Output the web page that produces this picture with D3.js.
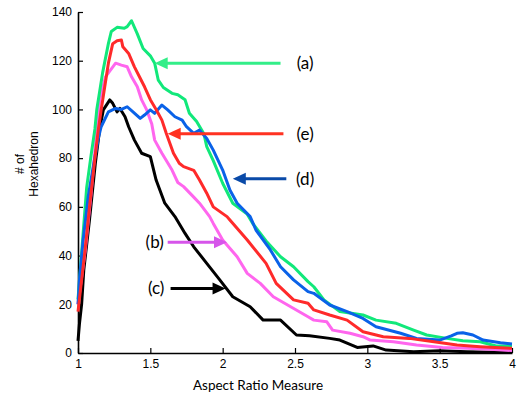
<!DOCTYPE html>
<html>
<head>
<meta charset="utf-8">
<script src="https://cdn.jsdelivr.net/npm/d3@7"></script>
<style>
  body { margin: 0; background: #fff; }
  svg { display: block; }
</style>
</head>
<body>
<svg id="chart"></svg>
<script>
// aspect ratio values and hexahedron counts, one pair per curve
let aX = [1.0, 1.03, 1.06, 1.09, 1.117, 1.13, 1.17, 1.21, 1.23, 1.27, 1.32, 1.34, 1.37, 1.41, 1.45, 1.50, 1.53, 1.555, 1.59, 1.65, 1.69, 1.74, 1.77, 1.82, 1.87, 1.89, 1.935, 2.0, 2.07, 2.17, 2.21, 2.30, 2.40, 2.49, 2.59, 2.63, 2.70, 2.81, 2.97, 3.06, 3.20, 3.32, 3.41, 3.55, 3.66, 3.78, 3.89, 4.0];
let aY = [22, 45, 68, 81, 92, 100, 115, 127, 132, 133.7, 133.3, 134, 136.4, 131, 125, 122, 119, 112, 109, 106.6, 106, 104, 98.4, 95, 90, 84.7, 79, 69.7, 61.5, 57, 53, 46, 39.5, 35.4, 29.3, 27.2, 21.8, 17, 15.6, 13.5, 12.2, 9.4, 7.4, 6, 5, 4.6, 2.9, 2.9];

let eX = [1.0, 1.05, 1.083, 1.117, 1.14, 1.16, 1.21, 1.24, 1.27, 1.30, 1.31, 1.35, 1.39, 1.43, 1.46, 1.50, 1.54, 1.58, 1.61, 1.66, 1.70, 1.73, 1.80, 1.84, 1.89, 1.935, 2.03, 2.05, 2.17, 2.30, 2.37, 2.49, 2.59, 2.63, 2.74, 2.86, 2.97, 3.11, 3.29, 3.46, 3.62, 3.78, 4.0];
let eY = [17, 43, 62, 80, 91.5, 99.8, 119, 127, 128.2, 128.5, 125.7, 123, 117.5, 112.8, 109.3, 104, 100, 95.6, 90.2, 82, 77.9, 76.5, 75, 71, 65.6, 60, 56, 54.6, 46.4, 36.8, 28.6, 21.8, 20.4, 17.7, 15.6, 13.5, 8.7, 6.7, 6, 4.6, 3.3, 2.6, 1.9];

let dX = [1.0, 1.01, 1.035, 1.07, 1.105, 1.14, 1.16, 1.21, 1.26, 1.30, 1.34, 1.38, 1.43, 1.46, 1.50, 1.53, 1.58, 1.62, 1.67, 1.72, 1.75, 1.80, 1.84, 1.89, 1.935, 2.00, 2.05, 2.10, 2.19, 2.23, 2.33, 2.40, 2.49, 2.59, 2.63, 2.74, 2.86, 2.97, 3.06, 3.23, 3.34, 3.50, 3.58, 3.62, 3.66, 3.73, 3.80, 3.92, 4.0];
let dY = [20, 30, 46, 64, 76.5, 88, 92.9, 99, 100.4, 100, 101.1, 99, 96.3, 97.7, 99.8, 98.4, 101.8, 99.8, 97, 95.6, 92.9, 90.2, 91.5, 88.1, 83.3, 75.1, 66.9, 61.5, 56, 50.5, 42.3, 35.4, 30, 25.2, 24.5, 19.7, 17, 14.2, 10.8, 8.1, 6, 5.3, 7, 8.1, 8.3, 7.4, 5.3, 4.2, 3.7];

let bX = [1.0, 1.05, 1.09, 1.12, 1.15, 1.19, 1.26, 1.30, 1.34, 1.37, 1.41, 1.44, 1.475, 1.51, 1.53, 1.58, 1.65, 1.69, 1.73, 1.80, 1.84, 1.91, 1.935, 2.00, 2.10, 2.17, 2.26, 2.35, 2.47, 2.59, 2.63, 2.72, 2.76, 2.88, 2.97, 3.02, 3.18, 3.34, 3.52, 3.69, 3.85, 4.0];
let bY = [20, 42, 65, 85, 104, 113.4, 119, 118.2, 117.5, 113.4, 109.3, 103.9, 99.8, 94, 87.4, 82, 75.1, 70, 68.3, 64, 61.5, 56, 53.2, 46.4, 39.5, 32.7, 28.6, 23.1, 19, 14.9, 13.5, 12.8, 9.4, 8.1, 6.7, 5.3, 4.6, 3.3, 2.3, 1.9, 1.5, 1];

let cX = [1.0, 1.01, 1.025, 1.04, 1.08, 1.12, 1.15, 1.175, 1.22, 1.24, 1.27, 1.29, 1.325, 1.35, 1.39, 1.44, 1.50, 1.54, 1.60, 1.67, 1.74, 1.80, 1.89, 1.98, 2.07, 2.19, 2.28, 2.40, 2.51, 2.60, 2.74, 2.81, 2.93, 3.04, 3.13, 3.32, 3.50, 3.69, 4.0];
let cY = [5, 12, 20, 34, 55, 78, 92, 99.8, 103.9, 102.5, 99, 100.4, 97, 92.9, 87.4, 82, 80.6, 71, 61.5, 56, 49.1, 43.6, 36.8, 30, 23.1, 19, 13.5, 13.5, 7.4, 7.1, 6, 5.3, 2.3, 2.9, 1.2, 0.5, 0.9, 0.5, 0.2];

let xTicks = [1, 1.5, 2, 2.5, 3, 3.5, 4];
let yTicks = [0, 20, 40, 60, 80, 100, 120, 140];

// drawing order: back to front
let series = [
  { name: '(c)', xs: cX, ys: cY, color: '#000000' },
  { name: '(b)', xs: bX, ys: bY, color: '#ff66ee' },
  { name: '(a)', xs: aX, ys: aY, color: '#11e87a' },
  { name: '(d)', xs: dX, ys: dY, color: '#0a62e8' },
  { name: '(e)', xs: eX, ys: eY, color: '#ff2a2a' }
];

const W = 524, H = 399;
let mar = { top: 12, right: 12, bottom: 46, left: 78 };
let w = W - mar.left - mar.right;
let h = H - mar.top - mar.bottom;

let svg = d3.select('#chart')
  .attr('width', W)
  .attr('height', H);

let g = svg.append('g')
  .attr('transform', 'translate(' + mar.left + ',' + mar.top + ')');

const x = d3.scaleLinear().domain([1, 4]).range([0, w]);
const y = d3.scaleLinear().domain([0, 140]).range([h, 0]);

// axes, ticks pointing inward
let xAxis = g.append('g')
  .attr('transform', 'translate(0,' + h + ')')
  .call(d3.axisBottom(x).tickValues(xTicks).tickFormat(d3.format('')).tickSizeInner(-5).tickSizeOuter(0).tickPadding(6));

let yAxis = g.append('g')
  .call(d3.axisLeft(y).tickValues(yTicks).tickSizeInner(-5).tickSizeOuter(0).tickPadding(6));

[xAxis, yAxis].forEach(a => {
  a.select('.domain').attr('stroke', '#000').attr('stroke-width', 1.6);
  a.selectAll('.tick line').attr('stroke', '#000').attr('stroke-width', 1.2);
  a.selectAll('.tick text')
    .attr('font-family', 'Liberation Sans, Arial, sans-serif')
    .attr('font-size', 12)
    .attr('fill', '#000');
});

// curves
let line = d3.line()
  .x(d => x(d[0]))
  .y(d => y(d[1]));

g.selectAll('.curve')
  .data(series)
  .enter().append('path')
  .attr('class', 'curve')
  .attr('d', s => line(s.xs.map((v, i) => [v, s.ys[i]])))
  .attr('fill', 'none')
  .attr('stroke', s => s.color)
  .attr('stroke-width', 3)
  .attr('stroke-linejoin', 'round');

// labels and arrows, positions in data units
let notes = [
  { label: '(a)', lx: 2.57, ly: 119, from: 2.40, to: 1.53, color: '#33ee88' },
  { label: '(e)', lx: 2.57, ly: 90, from: 2.42, to: 1.62, color: '#ff3322' },
  { label: '(d)', lx: 2.57, ly: 71.5, from: 2.44, to: 2.07, color: '#0a4aa8' },
  { label: '(b)', lx: 1.53, ly: 45.5, from: 1.62, to: 2.03, color: '#d655ea' },
  { label: '(c)', lx: 1.54, ly: 26.5, from: 1.64, to: 2.02, color: '#000000' }
];

let ann = g.append('g');
notes.forEach(n => {
  let dir = n.to > n.from ? 1 : -1;
  let yy = y(n.ly);
  let tip = x(n.to);
  ann.append('line')
    .attr('x1', x(n.from)).attr('x2', tip - dir * 10)
    .attr('y1', yy).attr('y2', yy)
    .attr('stroke', n.color)
    .attr('stroke-width', 3);
  ann.append('path')
    .attr('d', 'M' + tip + ',' + yy + 'L' + (tip - dir * 13) + ',' + (yy - 6) + 'L' + (tip - dir * 13) + ',' + (yy + 6) + 'Z')
    .attr('fill', n.color);
  ann.append('text')
    .attr('x', x(n.lx))
    .attr('y', yy)
    .attr('dy', '0.35em')
    .attr('text-anchor', 'middle')
    .attr('font-family', 'Lato, sans-serif')
    .attr('font-size', 17)
    .text(n.label);
});

// axis titles
svg.append('text')
  .attr('x', 258)
  .attr('y', 390)
  .attr('text-anchor', 'middle')
  .attr('font-family', 'Lato, sans-serif')
  .attr('font-size', 13.5)
  .text('Aspect Ratio Measure');

let yt = svg.append('text')
  .attr('transform', 'translate(24,164) rotate(-90)')
  .attr('text-anchor', 'middle')
  .attr('font-family', 'Liberation Sans, Arial, sans-serif')
  .attr('font-size', 12);
yt.append('tspan').attr('x', 0).attr('dy', 0).text('# of');
yt.append('tspan').attr('x', 0).attr('dy', '1.2em').text('Hexahedron');
</script>
</body>
</html>
